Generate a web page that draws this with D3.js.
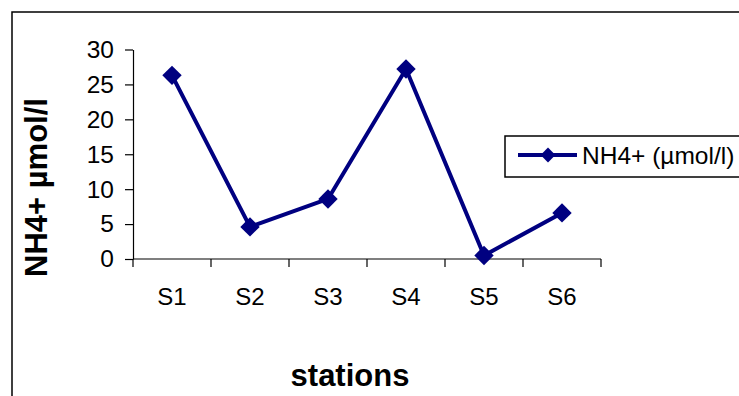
<!DOCTYPE html>
<html>
<head>
<meta charset="utf-8">
<script src="https://cdn.jsdelivr.net/npm/d3@7"></script>
<style>
  html, body { margin: 0; padding: 0; background: #fff; }
  svg { display: block; font-family: Arial, "Liberation Sans", sans-serif; }
</style>
</head>
<body>
<svg id="chart" width="739" height="396"></svg>
<script>
const categories = ["S1", "S2", "S3", "S4", "S5", "S6"];
const values = [26.3, 4.6, 8.6, 27.2, 0.5, 6.6];
const yTicks = [0, 5, 10, 15, 20, 25, 30];
const seriesName = "NH4+ (\u00b5mol/l)";
const yTitle = "NH4+ \u00b5mol/l";
const xTitle = "stations";

(function () {
const svg = d3.select("#chart");
const color = "#000080";

// outer frame (right/bottom edges cropped out of view)
svg.append("rect")
  .attr("x", 12).attr("y", 12)
  .attr("width", 760).attr("height", 420)
  .attr("fill", "none").attr("stroke", "#000").attr("stroke-width", 1.5);

const pLeft = 133, pRight = 601, pTop = 49.5, pBottom = 259;

const x = d3.scaleBand().domain(categories).range([pLeft, pRight]).padding(0);
const y = d3.scaleLinear().domain([0, 30]).range([pBottom, pTop]);

// y axis
const yAxis = svg.append("g")
  .attr("transform", `translate(${pLeft},0)`)
  .call(d3.axisLeft(y).tickValues(yTicks).tickSize(8).tickPadding(11).tickSizeOuter(0));
yAxis.select(".domain").attr("stroke", "#000").attr("stroke-width", 1.2);
yAxis.selectAll(".tick line").attr("stroke", "#000").attr("stroke-width", 1.2);
yAxis.selectAll(".tick text").attr("font-size", 24.5).attr("fill", "#000")
  .attr("font-family", "Arial, 'Liberation Sans', sans-serif");

// x axis with ticks at category boundaries
const xg = svg.append("g").attr("transform", `translate(0,${pBottom})`);
xg.append("line").attr("x1", pLeft).attr("x2", pRight).attr("y1", 0).attr("y2", 0)
  .attr("stroke", "#000").attr("stroke-width", 1.2);
const boundaries = categories.map(c => x(c)).concat([pRight]);
xg.selectAll("line.tk").data(boundaries).enter().append("line")
  .attr("class", "tk")
  .attr("x1", d => d).attr("x2", d => d).attr("y1", 0).attr("y2", 8)
  .attr("stroke", "#000").attr("stroke-width", 1.2);
xg.selectAll("text").data(categories).enter().append("text")
  .attr("x", d => x(d) + x.bandwidth() / 2)
  .attr("y", 46)
  .attr("text-anchor", "middle")
  .attr("font-size", 24)
  .attr("fill", "#000")
  .text(d => d);

// line
const line = d3.line()
  .x((d, i) => x(categories[i]) + x.bandwidth() / 2)
  .y(d => y(d));
svg.append("path").datum(values)
  .attr("d", line)
  .attr("fill", "none")
  .attr("stroke", color)
  .attr("stroke-width", 4)
  .attr("stroke-linejoin", "round");

// diamond markers
const diamond = d3.symbol().type(d3.symbolDiamond2).size(240);
svg.selectAll("path.mk").data(values).enter().append("path")
  .attr("class", "mk")
  .attr("d", diamond)
  .attr("transform", (d, i) => `translate(${x(categories[i]) + x.bandwidth() / 2},${y(d)})`)
  .attr("fill", color);

// axis titles
svg.append("text")
  .attr("transform", `translate(47,${(98 + 277) / 2}) rotate(-90)`)
  .attr("text-anchor", "middle")
  .attr("font-size", 31)
  .attr("font-weight", "bold")
  .attr("fill", "#000")
  .text(yTitle);

svg.append("text")
  .attr("x", 350).attr("y", 386)
  .attr("text-anchor", "middle")
  .attr("font-size", 31)
  .attr("font-weight", "bold")
  .attr("fill", "#000")
  .text(xTitle);

// legend
const lg = svg.append("g");
lg.append("rect")
  .attr("x", 505).attr("y", 136).attr("width", 260).attr("height", 41)
  .attr("fill", "#fff").attr("stroke", "#000").attr("stroke-width", 1.5);
lg.append("line")
  .attr("x1", 518).attr("x2", 577).attr("y1", 155).attr("y2", 155)
  .attr("stroke", color).attr("stroke-width", 4);
lg.append("path")
  .attr("d", d3.symbol().type(d3.symbolDiamond2).size(140))
  .attr("transform", "translate(548,155)")
  .attr("fill", color);
lg.append("text")
  .attr("x", 582).attr("y", 164)
  .attr("font-size", 24.5)
  .attr("fill", "#000")
  .text(seriesName);
})();
</script>
</body>
</html>
